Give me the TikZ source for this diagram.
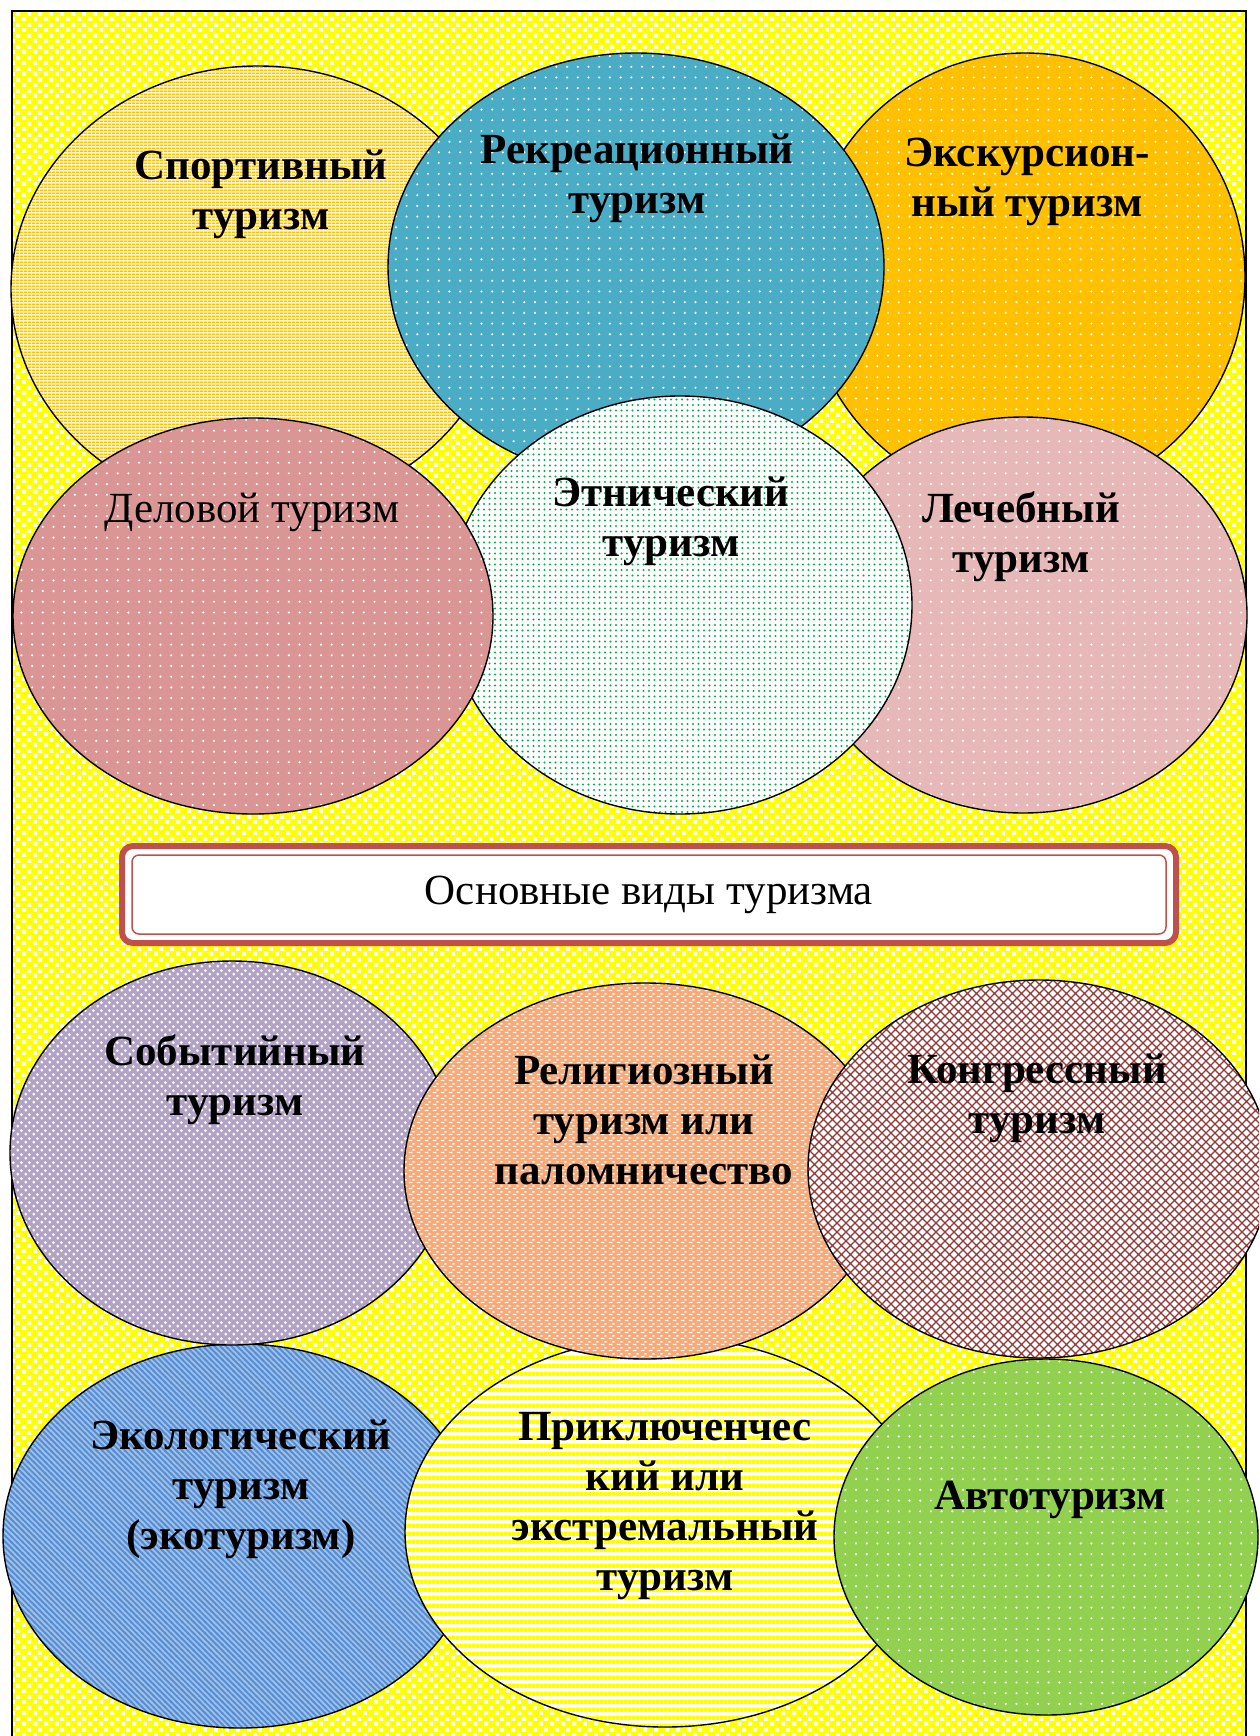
\documentclass[tikz,border=0pt]{standalone}
\usepackage{fontspec}
\setmainfont{Liberation Serif}
\usetikzlibrary{patterns,shapes.geometric}

% background checker
\pgfdeclarepatternformonly{bgcheck}{\pgfqpoint{0pt}{0pt}}{\pgfqpoint{11pt}{11pt}}{\pgfqpoint{11pt}{11pt}}{%
  \pgfpathrectangle{\pgfqpoint{0pt}{0pt}}{\pgfqpoint{4.4pt}{4.4pt}}%
  \pgfpathrectangle{\pgfqpoint{5.5pt}{5.5pt}}{\pgfqpoint{4.4pt}{4.4pt}}%
  \pgfusepath{fill}}
% sparse dots
\pgfdeclarepatternformonly{wdots}{\pgfqpoint{-2pt}{-2pt}}{\pgfqpoint{2pt}{2pt}}{\pgfqpoint{10.7pt}{10.7pt}}{%
  \pgfpathcircle{\pgfqpoint{0pt}{0pt}}{1.2pt}\pgfusepath{fill}}
% dense dots
\pgfdeclarepatternformonly{gdots}{\pgfqpoint{-1.5pt}{-1.5pt}}{\pgfqpoint{1.5pt}{1.5pt}}{\pgfqpoint{5.5pt}{5.5pt}}{%
  \pgfpathcircle{\pgfqpoint{0pt}{0pt}}{1.2pt}\pgfusepath{fill}}
% thin horizontal stripes
\pgfdeclarepatternformonly{hthin}{\pgfqpoint{0pt}{0pt}}{\pgfqpoint{4pt}{3.3pt}}{\pgfqpoint{4pt}{3.3pt}}{%
  \pgfpathrectangle{\pgfqpoint{0pt}{0pt}}{\pgfqpoint{4pt}{1.8pt}}\pgfusepath{fill}}
% wide horizontal stripes
\pgfdeclarepatternformonly{hwide}{\pgfqpoint{0pt}{0pt}}{\pgfqpoint{4pt}{8.3pt}}{\pgfqpoint{4pt}{8.3pt}}{%
  \pgfpathrectangle{\pgfqpoint{0pt}{0pt}}{\pgfqpoint{4pt}{4.8pt}}\pgfusepath{fill}}
% diagonal lines
\pgfdeclarepatternformonly{diagw}{\pgfqpoint{-2pt}{-2pt}}{\pgfqpoint{7.7pt}{7.7pt}}{\pgfqpoint{5.7pt}{5.7pt}}{%
  \pgfsetlinewidth{1.9pt}%
  \pgfpathmoveto{\pgfqpoint{-0.6pt}{6.3pt}}\pgfpathlineto{\pgfqpoint{6.3pt}{-0.6pt}}\pgfusepath{stroke}}
% crosshatch
\pgfdeclarepatternformonly{xhatch}{\pgfqpoint{-1pt}{-1pt}}{\pgfqpoint{10pt}{10pt}}{\pgfqpoint{9pt}{9pt}}{%
  \pgfsetlinewidth{1.3pt}%
  \pgfpathmoveto{\pgfqpoint{-0.3pt}{-0.3pt}}\pgfpathlineto{\pgfqpoint{9.3pt}{9.3pt}}%
  \pgfpathmoveto{\pgfqpoint{-0.3pt}{9.3pt}}\pgfpathlineto{\pgfqpoint{9.3pt}{-0.3pt}}\pgfusepath{stroke}}
% white grid dots (purple)
\pgfdeclarepatternformonly{pdots}{\pgfqpoint{0pt}{0pt}}{\pgfqpoint{8pt}{8pt}}{\pgfqpoint{8pt}{8pt}}{%
  \pgfpathcircle{\pgfqpoint{2pt}{2pt}}{1.7pt}\pgfpathcircle{\pgfqpoint{6pt}{6pt}}{1.7pt}\pgfusepath{fill}}
% white dashes (peach)
\pgfdeclarepatternformonly{pdash}{\pgfqpoint{0pt}{0pt}}{\pgfqpoint{8pt}{6pt}}{\pgfqpoint{8pt}{6pt}}{%
  \pgfpathrectangle{\pgfqpoint{1pt}{1pt}}{\pgfqpoint{4pt}{1.6pt}}\pgfpathrectangle{\pgfqpoint{5pt}{4pt}}{\pgfqpoint{2.5pt}{1.6pt}}\pgfusepath{fill}}

\definecolor{cSport}{HTML}{FFC000}
\definecolor{cSportBg}{HTML}{FFF3D0}
\definecolor{cRec}{HTML}{4BACC6}
\definecolor{cExc}{HTML}{FFC000}
\definecolor{cDel}{HTML}{D99694}
\definecolor{cEth}{HTML}{00B050}
\definecolor{cLech}{HTML}{E6B9B8}
\definecolor{cSob}{HTML}{B3A2C7}
\definecolor{cRel}{HTML}{F7A978}
\definecolor{cCong}{HTML}{953735}
\definecolor{cEco}{HTML}{558ED5}
\definecolor{cAdv}{HTML}{FFFF00}
\definecolor{cAvto}{HTML}{92D050}
\definecolor{cBox}{HTML}{C0504D}
\definecolor{cBg}{HTML}{FFFF00}

\begin{document}
\begin{tikzpicture}[x=1pt,y=-1pt,
  oval/.style={ellipse, draw=black, line width=1.4pt, inner sep=0pt, outer sep=0pt},
  lbl/.style={align=center, inner sep=0pt, font=\fontsize{43}{50}\selectfont\bfseries},
  lblr/.style={align=center, inner sep=0pt, font=\fontsize{43}{50}\selectfont}]
\clip (0,0) rectangle (1259,1736);
\fill[white] (0,0) rectangle (1259,1736);
% frame with yellow background
\path[fill=cBg] (12,11) rectangle (1246,1760);
\path[pattern=bgcheck, pattern color=white] (12,11) rectangle (1246,1760);
\draw[line width=1.5pt] (12,1760) -- (12,11) -- (1246,11) -- (1246,1760);

% upper group
\node[oval, minimum width=494pt, minimum height=446pt, preaction={fill=cSportBg}, pattern=hthin, pattern color=cSport] (sport) at (258,289) {};
\node[oval, minimum width=440pt, minimum height=448pt, preaction={fill=cExc}, pattern=wdots, pattern color=white] (exc) at (1025,277) {};
\node[oval, minimum width=496pt, minimum height=428pt, preaction={fill=cRec}, pattern=wdots, pattern color=white] (rec) at (636,267) {};
\node[oval, minimum width=448pt, minimum height=396pt, preaction={fill=cLech}, pattern=wdots, pattern color=white] (lech) at (1023,615) {};
\node[oval, minimum width=464pt, minimum height=418pt, preaction={fill=white}, pattern=gdots, pattern color=cEth] (eth) at (680,605) {};
\node[oval, minimum width=480pt, minimum height=396pt, preaction={fill=cDel}, pattern=wdots, pattern color=white] (del) at (253,616) {};

% title box
\node[draw=cBox, line width=6pt, rounded corners=11pt, fill=white, minimum width=1054pt, minimum height=97pt, inner sep=0pt] (title) at (649,894.5) {};
\node[draw=cBox, line width=1.5pt, rounded corners=7pt, minimum width=1034pt, minimum height=79pt, inner sep=0pt, lblr] (titlein) at (title.center) {Основные виды туризма};

% lower group
\node[oval, minimum width=474pt, minimum height=384pt, preaction={fill=cEco!55!white}, pattern=diagw, pattern color=cEco] (eco) at (240,1536) {};
\node[oval, minimum width=520pt, minimum height=390pt, preaction={fill=white}, pattern=hwide, pattern color=cAdv] (adv) at (665,1532) {};
\node[oval, minimum width=424pt, minimum height=356pt, preaction={fill=cAvto}, pattern=wdots, pattern color=white] (avto) at (1046,1537) {};
\node[oval, minimum width=444pt, minimum height=384pt, preaction={fill=cSob}, pattern=pdots, pattern color=white] (sob) at (232,1153) {};
\node[oval, minimum width=482pt, minimum height=376pt, preaction={fill=cRel}, pattern=pdash, pattern color=white] (rel) at (645,1171) {};
\node[oval, minimum width=462pt, minimum height=378pt, preaction={fill=white}, pattern=xhatch, pattern color=cCong] (cong) at (1039,1169) {};

% labels
\node[lbl] (tsport) at (261,194) {Спортивный\\туризм};
\node[lbl] (trec) at (637,178) {Рекреационный\\туризм};
\node[lbl] (texc) at (1027,182) {Экскурсион-\\ный туризм};
\node[lblr] (tdel) at (252,512) {Деловой туризм};
\node[lbl] (teth) at (671,521) {Этнический\\туризм};
\node[lbl] (tlech) at (1021,537) {Лечебный\\туризм};
\node[lbl] (tsob) at (235,1080) {Событийный\\туризм};
\node[lbl] (trel) at (644,1120) {Религиозный\\туризм или\\паломничество};
\node[lbl] (tcong) at (1037,1098) {Конгрессный\\туризм};
\node[lbl] (teco) at (241,1489) {Экологический\\туризм\\(экотуризм)};
\node[lbl] (tadv) at (665,1506) {Приключенчес\\кий или\\экстремальный\\туризм};
\node[lbl] (tavto) at (1050,1500) {Автотуризм};
\end{tikzpicture}
\end{document}
